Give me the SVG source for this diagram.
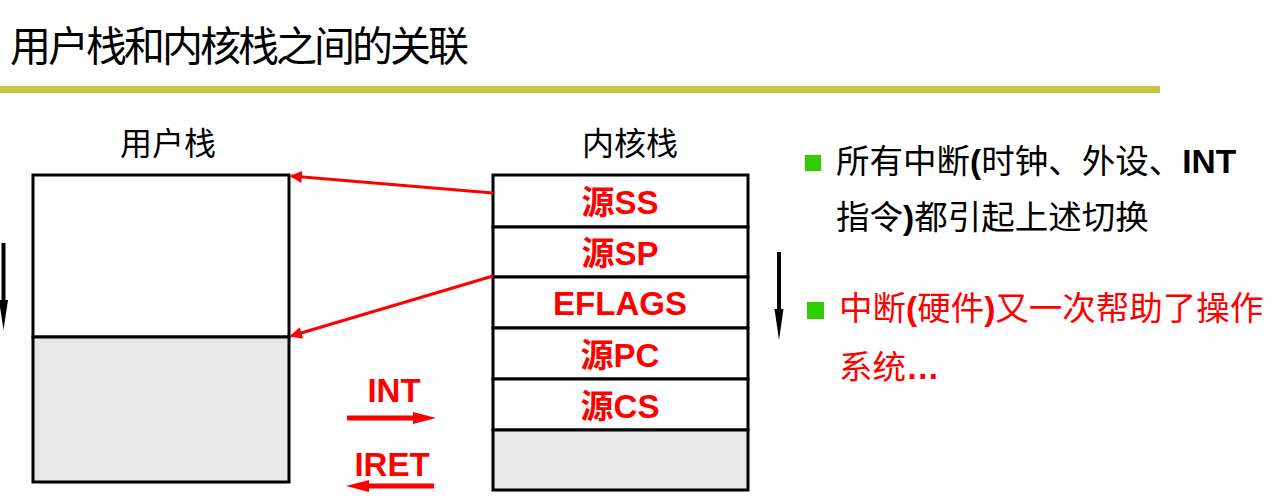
<svg xmlns="http://www.w3.org/2000/svg" width="1275" height="504" viewBox="0 0 1275 504">
  <style>
    .cjk { font-family: "Noto Sans CJK SC", "Liberation Sans", sans-serif; }
    .lat { font-family: "Liberation Sans", "Noto Sans CJK SC", sans-serif; font-weight: bold; }
    .box { fill: #ffffff; stroke: #000000; stroke-width: 3; }
    .shade { fill: #e8e8e8; stroke: #000000; stroke-width: 3; }
    .cell { fill: #ff0000; font-size: 33px; text-anchor: middle; font-weight: bold; }
    .red { stroke: #ff0000; stroke-width: 3; fill: none; }
  </style>
  <defs>
    <marker id="redHead" viewBox="0 0 10 10" refX="9" refY="5" markerWidth="5" markerHeight="4" orient="auto" markerUnits="strokeWidth">
      <path d="M0,0 L10,5 L0,10 Z" fill="#ff0000"/>
    </marker>
  </defs>

  <rect width="1275" height="504" fill="#ffffff"/>

  <!-- title and rule -->
  <text class="cjk" x="10" y="61" font-size="41" letter-spacing="-3" fill="#000">用户栈和内核栈之间的关联</text>
  <rect x="0" y="86" width="1160" height="7" fill="#c5c63f"/>

  <!-- user stack -->
  <g id="user-stack">
    <text class="cjk" x="168" y="155" font-size="32" text-anchor="middle" fill="#000">用户栈</text>
    <rect class="box" x="33" y="175" width="256" height="162"/>
    <rect class="shade" x="33" y="337" width="256" height="145"/>
  </g>

  <!-- growth direction, user side -->
  <g id="user-grow">
    <rect x="1.5" y="243" width="4" height="62" fill="#000"/>
    <path d="M-1,300 L8,300 L3.5,330 Z" fill="#000"/>
  </g>

  <!-- kernel stack -->
  <g id="kernel-stack">
    <text class="cjk" x="630" y="155" font-size="32" text-anchor="middle" fill="#000">内核栈</text>
    <rect class="box" x="493" y="175" width="255" height="52"/>
    <rect class="box" x="493" y="227" width="255" height="50"/>
    <rect class="box" x="493" y="277" width="255" height="51"/>
    <rect class="box" x="493" y="328" width="255" height="51"/>
    <rect class="box" x="493" y="379" width="255" height="51"/>
    <rect class="shade" x="493" y="430" width="255" height="60"/>
    <text class="cell" x="620" y="214"><tspan class="cjk">源</tspan><tspan class="lat">SS</tspan></text>
    <text class="cell" x="620" y="265"><tspan class="cjk">源</tspan><tspan class="lat">SP</tspan></text>
    <text class="cell lat" x="620" y="315">EFLAGS</text>
    <text class="cell" x="620" y="367"><tspan class="cjk">源</tspan><tspan class="lat">PC</tspan></text>
    <text class="cell" x="620" y="418"><tspan class="cjk">源</tspan><tspan class="lat">CS</tspan></text>
  </g>

  <!-- growth direction, kernel side -->
  <g id="kernel-grow">
    <rect x="777" y="252" width="4" height="62" fill="#000"/>
    <path d="M774.5,309 L783.5,309 L779,340 Z" fill="#000"/>
  </g>

  <!-- links between stacks -->
  <g id="connectors">
    <line class="red" x1="493" y1="193" x2="291" y2="176" marker-end="url(#redHead)"/>
    <line class="red" x1="493" y1="276" x2="291" y2="336" marker-end="url(#redHead)"/>
  </g>

  <!-- INT / IRET legend -->
  <g id="int-legend">
    <text class="lat" x="394" y="402" font-size="33" fill="#ff0000" text-anchor="middle">INT</text>
    <rect x="347" y="415.5" width="78" height="5" fill="#ff0000"/>
    <path d="M413,412 L436,418 L413,424 Z" fill="#ff0000"/>
  </g>
  <g id="iret-legend">
    <text class="lat" x="392" y="476" font-size="33" fill="#ff0000" text-anchor="middle">IRET</text>
    <rect x="358" y="483.5" width="76" height="5" fill="#ff0000"/>
    <path d="M369,480 L346,486 L369,492 Z" fill="#ff0000"/>
  </g>

  <!-- notes -->
  <g id="note-1">
    <rect x="805" y="155" width="16" height="16" fill="#33cc00"/>
    <text class="cjk" x="836" y="173" font-size="33.5" fill="#000">所有中断<tspan class="lat">(</tspan>时钟、外设、<tspan class="lat">INT</tspan></text>
    <text class="cjk" x="836" y="229" font-size="33.5" fill="#000">指令<tspan class="lat">)</tspan>都引起上述切换</text>
  </g>
  <g id="note-2">
    <rect x="807" y="302" width="17" height="17" fill="#33cc00"/>
    <text class="cjk" x="839" y="320" font-size="33.5" fill="#ff0000">中断<tspan class="lat">(</tspan>硬件<tspan class="lat">)</tspan>又一次帮助了操作</text>
    <text class="cjk" x="839" y="379" font-size="33.5" fill="#ff0000">系统<tspan class="lat">…</tspan></text>
  </g>
</svg>
